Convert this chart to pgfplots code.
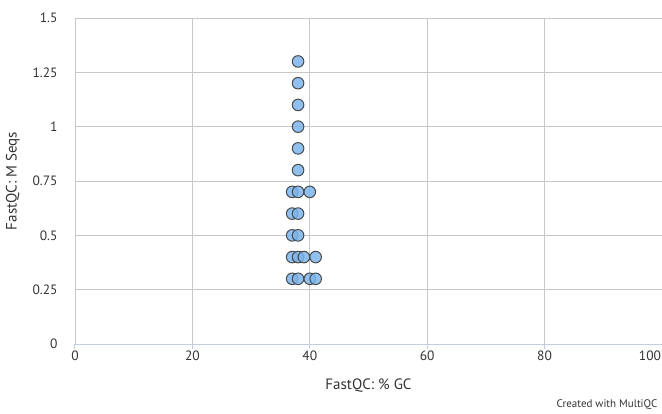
\documentclass[border=0pt]{standalone}
\usepackage{pgfplots}
\pgfplotsset{compat=1.18}
\usepackage{fontspec}
\setmainfont{PT Sans}

\definecolor{gridgray}{HTML}{C8C8C8}
\definecolor{axisblue}{HTML}{C0D0E0}
\definecolor{ptfill}{HTML}{7CB5EC}
\definecolor{ptedge}{HTML}{4A4A4A}
\definecolor{labelgray}{HTML}{333333}

\begin{document}
\begin{tikzpicture}
\begin{axis}[
  at={(0,0)}, anchor=south west,
  scale only axis,
  width=587bp, height=326bp,
  xmin=0, xmax=100, ymin=0, ymax=1.5,
  xtick={0,20,40,60,80,100},
  xticklabels={0,20,40,60,80,\makebox[0pt][r]{100\kern1bp}},
  ytick={0,0.25,0.5,0.75,1,1.25,1.5},
  yticklabels={0,0.25,0.5,0.75,1,1.25,1.5},
  /pgf/number format/assume math mode=true,
  grid=major,
  major grid style={gridgray, line width=0.9bp},
  axis line style={draw=none},
  axis x line*=bottom,
  axis y line*=left,
  x axis line style={draw=axisblue, line width=1bp},
  xtick style={axisblue, line width=1bp},
  ytick style={draw=none},
  major tick length=5bp,
  tick align=outside,
  xtick pos=bottom,
  ticklabel style={font=\fontsize{13.5bp}{15bp}\selectfont, text=labelgray},
  xticklabel style={yshift=2bp},
  yticklabel style={xshift=-9bp},
  xlabel={FastQC: \% GC},
  ylabel={FastQC: M Seqs},
  label style={font=\fontsize{15bp}{17bp}\selectfont, text=labelgray},
  xlabel style={yshift=-12bp},
  ylabel style={yshift=6bp},
  clip=false,
]
\addplot[only marks, mark=*, mark size=5.8bp,
  mark options={fill=ptfill, fill opacity=0.85, draw=ptedge, line width=1bp}]
  table {
x y
38 1.3
38 1.2
38 1.1
38 1.0
38 0.9
38 0.8
37 0.7
38 0.7
40 0.7
37 0.6
38 0.6
37 0.5
38 0.5
37 0.4
38 0.4
39 0.4
41 0.4
37 0.3
38 0.3
40 0.3
41 0.3
};
\end{axis}
\node[anchor=south east, font=\fontsize{11bp}{13bp}\selectfont, text=labelgray]
  at (586bp,-69bp) {Created with MultiQC};
\pgfresetboundingbox
\useasboundingbox (-75bp,-70bp) rectangle (587bp,344bp);
\end{tikzpicture}
\end{document}
